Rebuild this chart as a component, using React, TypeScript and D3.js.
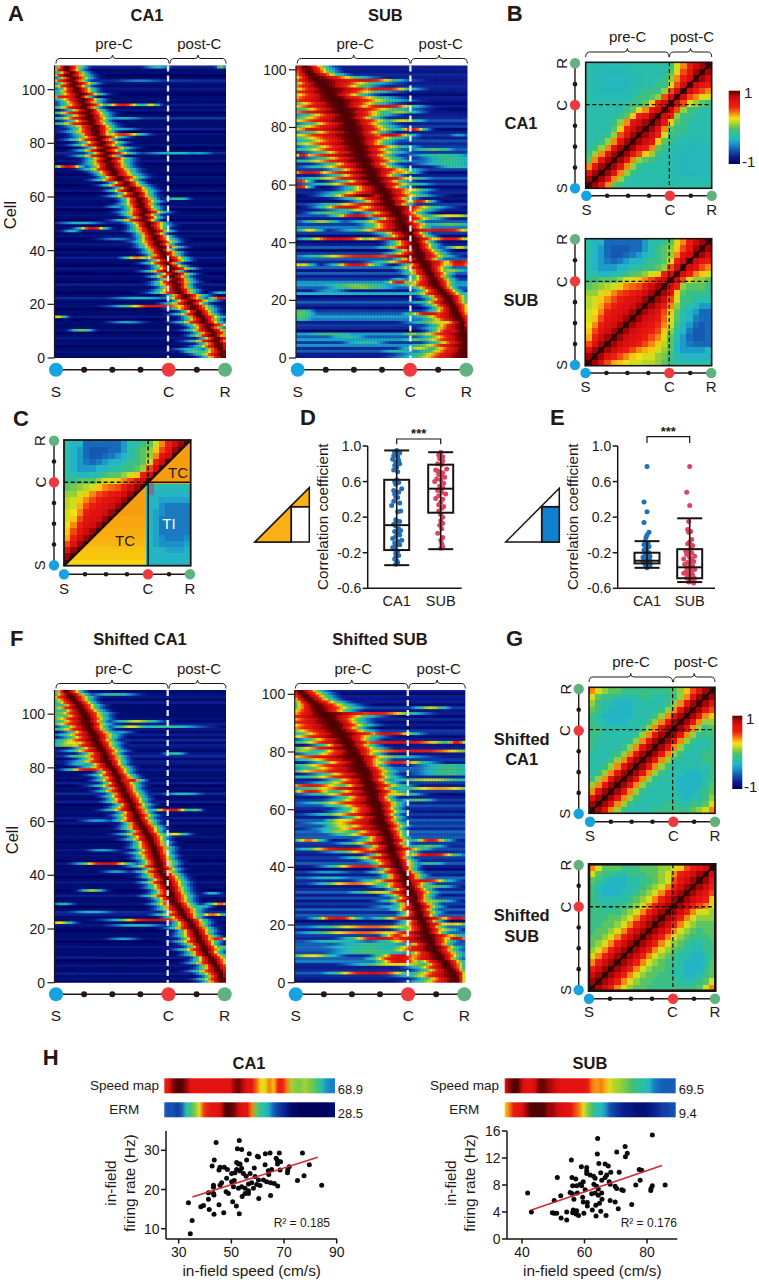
import React from "react";
import * as d3 from "d3";

const FONT = "'Liberation Sans', Arial, sans-serif";

// ---------- colour scale ----------
const jetStops = [0, 0.1, 0.18, 0.27, 0.33, 0.4, 0.47, 0.53, 0.58, 0.62, 0.67, 0.72, 0.78, 0.87, 0.93, 0.97, 1];
const jetColors = ["#00005c", "#0a1f90", "#1450b0", "#1b8fc8", "#22b4c8", "#2cc0a0", "#48c070", "#88cc40", "#c8dc20", "#f8e010", "#f8a810", "#f46010", "#ec2010", "#e01010", "#bc0808", "#7c0404", "#500303"];
const jet = d3.scaleLinear<string>().domain(jetStops).range(jetColors).clamp(true);

// ---------- heat maps: per-row peak (% of track), left / right spread, floor ----------
const ca1Peak = [99,98,99,97,96,96,94,95,92,93,91,89,90,87,87,85,84,84,81,81,79,79,76,76,73,72,71,72,69,71,69,70,67,69,67,65,67,65,64,63,62,62,60,61,58,59,57,58,56,54,55,52,53,51,53,52,50,51,49,50,47,48,44,45,41,42,38,38,34,35,33,32,33,30,32,29,31,28,30,27,28,26,27,24,25,23,24,21,22,20,21,19,20,17,18,16,17,14,16,13,13,11,12,10,11,8,10,7,7];
const ca1SigL = [8,10,9,6,9,7,10,6,8,7,9,6,8,10,7,6,9,6,8,7,9,6,7,6,10,8,6,9,7,6,8,6,9,7,6,8,7,10,6,7,6,8,7,9,6,7,6,9,7,6,8,10,6,7,9,7,6,8,6,7,9,7,8,6,8,6,9,7,6,8,10,7,9,7,8,10,7,9,7,10,8,11,9,8,11,8,10,14,9,13,9,14,8,12,9,8,11,7,10,8,7,9,7,10,6,8,6,7,5];
const ca1SigR = [4,4,5,5,6,6,6,7,6,7,7,6,8,7,6,9,7,6,8,7,6,9,7,8,6,7,6,5,8,6,6,7,5,8,6,5,7,8,6,7,5,8,6,7,8,6,5,7,6,8,7,5,6,6,8,6,7,5,8,6,7,6,9,7,8,6,7,9,10,8,9,8,7,9,8,6,10,8,9,7,8,6,9,7,6,9,7,8,6,9,7,8,6,6,9,7,7,5,8,7,7,6,8,6,7,8,6,6,7];
const ca1Base = [.03,.03,.06,.03,.02,.05,.03,.08,.04,.02,.06,.03,.03,.05,.02,.08,.03,.03,.02,.06,.03,.05,.12,.03,.02,.04,.03,.1,.02,.03,.06,.02,.03,.08,.02,.03,.05,.1,.03,.06,.02,.03,.08,.03,.02,.06,.03,.08,.03,.03,.1,.02,.04,.06,.03,.02,.08,.03,.05,.06,.03,.02,.07,.03,.02,.05,.03,.06,.02,.04,.05,.03,.02,.08,.04,.03,.12,.03,.02,.06,.03,.05,.03,.06,.02,.1,.03,.05,.03,.14,.03,.02,.07,.03,.1,.03,.06,.03,.02,.05,.08,.03,.06,.12,.03,.02,.05,.03,.1];
const ca1Lobes = [[108,60,6,.34],[108,97,2,.5],[103,50,12,.25],[103,70,25,.14],[97,6,8,.85],[94,40,8,.82],[94,56,4,.6],[89,40,10,.32],[85,38,9,.32],[83,40,9,.78],[76,70,14,.36],[76,84,7,.3],[71,8,6,.88],[59,72,5,.45],[50,15,10,.35],[48,22,6,.88],[47,10,4,.35],[37,60,14,.3],[37,48,6,.7],[22,50,14,.34],[22,97,5,.85],[19,60,16,.85],[19,76,5,.7],[15,2,4,.6],[13,42,8,.3],[12,96,5,.75],[10,16,5,.5],[5,96,6,.9],[3,80,8,.35],[2,82,5,.5],[24,97,4,.35],[62,36,6,.3],[56,36,5,.3],[44,36,8,.25]];

const subPeak = [100,100,100,100,100,100,100,99,99,98,98,97,97,96,95,94,93,92,91,90,89,88,86,85,83,82,81,80,79,78,77,76,75,74,73,72,72,71,70,70,69,68,67,66,64,63,62,62,61,60,59,58,57,55,54,53,52,51,50,49,47,46,45,45,44,43,42,41,40,39,38,38,37,36,36,35,35,34,34,33,33,32,31,30,30,28,27,26,25,24,22,20,19,18,16,14,12,10,9,7,6,5];
const subSigL = [24,22,18,16,22,14,20,16,22,10,14,12,8,14,16,14,10,8,10,12,8,9,12,9,10,14,12,9,8,10,9,12,8,18,10,26,12,8,14,10,9,24,10,12,22,15,14,18,10,20,12,22,16,26,12,16,10,20,14,13,24,14,26,16,28,14,22,16,28,18,32,18,26,20,30,22,26,32,20,34,26,18,30,22,18,32,18,26,20,30,24,18,24,16,18,12,14,9,10,8,8,7];
const subSigR = [3,3,3,3,3,3,3,4,4,4,4,4,5,5,6,6,6,7,8,7,8,9,8,7,7,7,8,8,7,9,8,9,12,14,8,12,10,9,8,8,7,12,8,7,18,10,12,8,14,12,10,14,18,8,12,10,16,14,16,10,16,12,20,10,14,18,12,10,16,14,12,16,14,20,12,14,18,16,12,18,16,14,18,12,16,18,24,14,18,24,18,14,22,28,18,24,30,20,12,10,10,9];
const subBase = [.1,.1,.2,.12,.28,.15,.3,.2,.3,.02,.12,.15,.1,.25,.3,.2,.15,.05,.12,.2,.1,.05,.33,.1,.2,.3,.28,.15,.1,.2,.08,.22,.03,.12,.2,.05,.15,.03,.2,.1,.05,.1,.05,.15,.12,.25,.15,.2,.1,.18,.05,.1,.03,.15,.05,.08,.03,.12,.1,.05,.15,.1,.2,.1,.05,.15,.1,.12,.22,.15,.1,.15,.2,.15,.12,.18,.1,.15,.1,.05,.15,.1,.18,.12,.1,.08,.03,.1,.05,.08,.1,.05,.08,.1,.12,.1,.08,.1,.12,.08,.1,.1];
const subLobes = [[96,40,15,.88],[93,50,14,.85],[90,25,20,.92],[87,52,14,.88],[85,10,12,.6],[79,10,8,.88],[79,68,6,.82],[77,55,10,.88],[77,95,5,.3],[75,15,10,.6],[72,15,8,.6],[70,4,4,.85],[70,85,14,.45],[69,90,14,.42],[68,90,14,.42],[67,88,14,.42],[66,95,10,.42],[64,8,10,.88],[64,60,8,.7],[61,2,5,.82],[60,60,14,.55],[59,2,5,.85],[58,65,10,.65],[56,40,15,1],[54,72,6,.82],[52,30,12,.88],[50,20,10,.5],[49,90,15,.62],[49,35,10,.88],[46,90,12,.5],[47,15,9,.55],[44,8,6,.62],[44,85,15,.88],[41,25,15,.88],[41,90,10,.85],[38,95,6,.6],[35,40,25,.8],[32,3,6,.65],[32,35,10,.88],[33,95,7,.92],[32,95,7,.85],[30,90,8,.55],[27,60,5,.35],[25,35,18,.52],[24,38,16,.52],[26,60,6,.85],[23,20,8,.3],[22,70,14,.38],[16,3,6,.45],[15,78,10,.88],[15,3,7,.5],[14,3,6,.48],[13,3,6,.42],[9,90,8,.88],[8,20,14,.45],[7,30,10,.4],[6,70,8,.5],[5,40,10,.42],[4,78,6,.55],[3,72,8,.6],[2,60,10,.4],[8,68,6,.55],[19,88,16,.62],[12,85,14,.6],[6,85,14,.6],[72,80,10,.5],[62,20,10,.6],[82,62,10,.6],[85,60,10,.55]];

const sca1Peak = [98,98,97,97,96,95,94,93,92,91,89,88,88,87,86,85,84,84,83,82,81,80,79,78,76,75,74,73,72,71,69,69,68,68,67,67,66,65,65,64,63,62,62,61,61,60,60,59,59,58,58,57,56,56,55,54,53,52,51,50,49,48,48,47,46,45,45,44,43,42,41,40,40,39,38,37,37,36,35,34,33,32,31,30,30,29,28,27,26,25,24,24,23,22,21,20,20,19,19,18,17,16,15,14,13,11,10,9,7];
const sca1SigL = [7,9,6,8,10,7,6,9,7,6,8,7,10,6,7,9,6,8,7,6,9,7,6,8,7,10,6,8,7,9,6,7,10,7,6,8,7,9,6,8,7,9,6,10,7,6,8,7,9,6,8,7,6,9,7,10,6,8,7,6,9,7,8,6,10,7,6,9,7,8,6,9,7,10,6,8,7,9,6,8,10,8,12,9,11,8,13,9,14,10,15,11,13,9,14,10,16,12,15,9,11,8,12,7,9,8,10,6,5];
const sca1SigR = [5,5,6,6,6,6,7,6,7,7,7,6,7,7,6,7,7,7,6,7,7,6,7,7,6,7,7,8,7,7,7,7,8,7,7,7,7,8,7,7,7,6,7,6,7,7,6,7,6,7,7,6,7,6,7,7,6,7,7,6,7,6,7,6,7,6,7,6,7,7,7,7,6,7,7,6,7,7,6,7,7,6,7,7,7,6,8,7,7,8,7,8,9,8,7,7,8,7,8,8,9,8,7,8,7,7,8,7,6];
const sca1Base = [.02,.06,.03,.1,.03,.03,.08,.03,.02,.1,.03,.05,.03,.08,.03,.02,.06,.03,.05,.02,.03,.08,.03,.03,.05,.1,.12,.03,.02,.06,.03,.03,.1,.03,.02,.05,.03,.08,.03,.02,.06,.03,.05,.03,.08,.02,.04,.06,.03,.08,.03,.05,.02,.03,.07,.03,.05,.03,.02,.08,.03,.1,.03,.06,.05,.03,.02,.1,.03,.04,.12,.03,.06,.02,.1,.03,.06,.03,.05,.08,.03,.07,.1,.04,.12,.08,.03,.06,.1,.03,.12,.04,.1,.03,.08,.05,.1,.03,.06,.03,.04,.03,.05,.03,.1,.03,.08,.06,.03];
const sca1Lobes = [[107,35,10,.4],[103,3,6,.42],[102,3,6,.45],[101,3,6,.45],[100,3,7,.5],[99,3,7,.5],[98,3,7,.48],[97,48,10,.58],[97,3,6,.42],[96,3,5,.38],[95,65,16,.42],[95,45,8,.6],[93,38,6,.3],[89,10,8,.62],[88,8,9,.55],[86,16,8,.42],[85,70,5,.4],[84,16,7,.5],[81,15,6,.35],[79,20,9,.88],[75,45,5,.85],[70,75,9,.36],[64,68,8,.85],[64,82,3,.5],[60,25,7,.3],[55,70,6,.62],[55,52,6,.85],[49,28,7,.3],[44,30,11,.88],[41,36,6,.3],[34,22,5,.55],[29,5,5,.35],[29,97,6,.72],[26,22,10,.34],[25,92,6,.72],[23,58,16,.92],[22,3,6,.62],[21,48,12,.36],[28,85,5,.4],[16,40,7,.3],[16,95,5,.85],[13,98,4,.5],[33,92,4,.35],[5,98,3,.8],[2,98,5,.9]];

const ssubPeak = [95,95,94,94,92,90,89,88,86,85,83,82,82,80,80,79,78,77,77,76,75,75,74,73,73,72,72,71,70,70,69,68,68,67,66,65,65,64,63,62,61,60,60,59,58,57,57,57,56,56,55,55,54,53,53,52,51,51,50,50,49,49,48,47,47,46,46,45,44,44,43,42,42,41,40,39,38,37,36,35,34,33,32,31,30,28,27,26,25,24,23,21,19,17,15,13,12,10,8,6,4,3];
const ssubSigL = [16,14,20,18,12,14,10,12,18,16,12,20,18,10,20,24,14,20,10,9,9,8,18,8,7,10,9,8,12,8,10,14,8,12,10,16,9,8,12,8,16,10,12,18,9,22,12,10,18,12,10,20,14,24,18,26,20,14,24,16,14,18,26,16,14,24,16,28,12,20,14,26,18,30,24,28,16,24,34,18,14,26,12,22,16,26,18,22,28,24,30,22,26,18,14,10,9,8,8,7,6,6];
const ssubSigR = [4,4,5,5,6,7,8,8,7,9,10,9,10,8,9,10,14,8,9,8,12,7,14,7,8,7,9,8,6,7,8,10,8,7,9,8,7,8,7,6,7,8,7,6,8,9,14,8,7,9,8,7,8,7,9,8,7,8,7,9,8,9,10,8,7,10,12,9,14,10,8,12,10,12,11,9,10,11,14,10,12,12,10,14,11,14,22,13,10,14,12,13,18,32,12,16,14,12,10,10,10,9];
const ssubBase = [.05,.1,.12,.2,.12,.1,.12,.25,.2,.12,.16,.2,.22,.2,.18,.12,.15,.22,.1,.22,.12,.05,.15,.2,.12,.2,.1,.15,.08,.18,.1,.2,.12,.08,.15,.12,.22,.1,.15,.05,.1,.2,.12,.15,.1,.12,.18,.12,.15,.1,.2,.18,.22,.12,.18,.15,.2,.1,.15,.08,.12,.18,.1,.15,.1,.05,.15,.12,.1,.15,.1,.12,.08,.2,.22,.12,.1,.15,.1,.08,.12,.1,.08,.15,.1,.05,.12,.15,.05,.1,.05,.12,.05,.1,.08,.15,.05,.1,.08,.1,.05,.1];
const ssubLobes = [[95,80,8,.58],[93,48,18,.8],[86,55,12,.88],[83,60,25,.88],[83,95,5,.82],[80,70,30,.82],[80,5,8,.55],[78,25,30,.88],[76,60,14,.8],[75,90,15,.42],[74,90,15,.44],[73,90,15,.46],[73,15,15,.72],[72,90,15,.44],[71,10,16,.4],[70,80,20,.58],[68,10,15,.82],[67,85,20,.68],[66,10,10,.82],[65,60,10,.6],[63,72,8,.5],[61,25,8,.4],[58,28,8,.55],[56,28,8,.62],[54,28,8,.6],[52,26,9,.55],[49,8,7,.72],[49,80,8,.82],[47,78,8,.5],[46,30,18,.92],[45,35,6,.5],[44,80,12,.88],[41,80,8,.4],[40,40,15,.82],[38,20,12,.3],[36,20,14,.35],[35,75,12,.88],[34,35,16,.72],[33,80,10,.5],[31,50,14,.6],[28,80,10,.55],[26,60,12,.35],[22,25,10,.88],[22,95,8,.88],[20,92,10,.65],[19,45,25,.72],[18,85,8,.62],[17,40,25,.72],[16,60,6,.8],[15,50,14,.88],[15,95,6,.88],[14,25,16,.4],[13,45,18,.44],[12,40,22,.42],[11,45,20,.44],[10,45,20,.46],[9,10,12,.62],[9,62,10,.88],[8,60,12,.88],[7,62,10,.88],[6,60,20,.62],[5,85,5,.6],[3,45,18,.88],[2,75,10,.4]];

const cellTicks = [0, 20, 40, 60, 80, 100];

// ---------- correlation matrices: lower triangle, row from S upward, in tenths ----------
const ca1Matrix = [
[10],[9,10],[7,9,10],[4,7,9,10],[0,4,7,9,10],[-1,1,4,7,9,10],[-2,-1,1,4,7,9,10],[-2,-2,-1,1,4,7,9,10],[-2,-2,-2,-1,1,5,7,9,10],[-2,-2,-2,-2,0,3,6,8,9,10],[-2,-2,-2,-2,-1,1,4,7,8,9,10],
[-2,-2,-2,-2,-2,-1,0,3,6,7,9,10],[-2,-2,-2,-2,-2,-2,-1,0,2,4,7,8,10],[-2,-2,-2,-2,-2,-2,-2,-1,-1,0,3,6,8,10],
[-2,-2.3,-2.5,-2.5,-2.5,-2.5,-2.4,-2.2,-1,-1,0,1,5,8,10],
[-2,-2.3,-2.6,-2.6,-2.6,-2.6,-2.5,-2.3,-2,-1,-1,-1,1,5,8,10],
[-2,-2.3,-2.6,-2.7,-2.7,-2.7,-2.6,-2.4,-2.2,-2,-2,-1,-1,2,5,8,10],
[-2,-2.3,-2.6,-2.7,-2.7,-2.7,-2.6,-2.4,-2.2,-2,-2,-2,-1,1,4,6,8,10],
[-2,-2.3,-2.5,-2.6,-2.6,-2.6,-2.5,-2.3,-2.2,-2,-2,-2,-2,0,2,5,7,9,10],
[-2,-2.2,-2.4,-2.4,-2.4,-2.4,-2.3,-2.2,-2,-2,-2,-2,-2,-1,2,4,6,8,9,10],
];
const subMatrix = [
[10],[9,10],[7.5,9,10],[5,7.5,9,10],[3.5,6,8,9,10],[3,5,7,8,9,10],[2.5,4,6,7.5,8,9,10],[2,3,5,7,7.5,8,9,10],[2,2.5,4,6,7,7.5,8,9,10],[1.5,2,3.5,5,6,7,7.5,8,9,10],[1.5,2,3,4,5,6,7,7.5,8,9,10],[1,1,2,3,4,5,5.5,6.5,7,8,9,10],[0,0.5,1,1.5,2,3,4,4.5,5,6.5,8,9,10],[-1,-1,0,0,0,1,2,2,3,4,5,7,8,10],
[-2,-2,-3,-3,-2,-2,-1,0,0,1,2,3,6,8,10],[-2,-3,-4,-4,-4,-3,-3,-2,-2,-1,-1,0,1,5,8,10],[-2,-3,-4,-5,-5.5,-5,-4,-3,-3,-2,-1,-1,0,2,6,8,10],[-2,-3,-4,-5.5,-6,-6,-5.5,-5,-4,-3,-2,-1,0,1,4,7,8,10],[-2,-3,-4,-5.5,-6,-6,-6,-5.5,-5.5,-4,-2,-1,0,1,3,5,7,9,10],[-2,-3,-3,-5.5,-5.5,-5.5,-5.5,-5.5,-5.5,-4,-2,-2,-1,0,2,4,6,8,9,10],
];
const sca1Matrix = [
[10],[9,10],[7,9,10],[4,7,9,10],[1,4,7,9,10],[-1,1,4,7,9,10],[-2,-1,1,4,7,9,10],[-2,-2,-1,1,4,7,9,10],[-2,-2,-2,-1,1,4,7,9,10],[-2,-2,-2,-2,-1,1,4,7,9,10],[-1,-2,-2,-2,-2,-1,1,4,7,9,10],[-1,-2,-2,-2,-2,-2,-1,1,4,7,9,10],[-1,-1,-2,-2,-2,-2,-2,-1,1,4,7,9,10],[-1,-1,-2,-2,-2,-2,-2,-2,-1,1,4,7,9,10],
[-1,-2,-2,-3,-3,-3,-2,-2,-2,-1,1,4,7,9,10],[-1,-2,-3,-3,-3,-3,-3,-2,-2,-2,-1,1,4,7,9,10],[0,-1,-2,-3,-3,-3,-3,-2,-2,-2,-2,-1,1,4,7,9,10],[1,-1,-2,-2,-3,-3,-3,-2,-2,-2,-2,-2,-1,1,4,7,9,10],[2,0,-1,-1,-2,-2,-2,-2,-1,-1,-2,-2,-1,-1,1,4,7,9,10],[4,2,1,0,0,-1,-1,-1,-1,-1,-1,-1,-1,0,1,3,5,7,9,10],
];
const ssubMatrix = [
[10],[9,10],[8,9,10],[6,8,9,10],[4,6,8,9,10],[2,4,6,8,9,10],[1,2,4,6,8,9,10],[0,1,2,4,6,8,9,10],[0,0,1,2,4,6,8,9,10],[-1,0,0,1,2,4,6,8,9,10],[-1,-1,0,0,1,2,4,6,8,9,10],[-1,-1,-1,0,0,1,2,4,6,8,9,10],[-1,-1,-1,-1,-1,0,1,2,4,6,8,9,10],[-1,-1,-2,-2,-1,-1,0,1,2,4,6,8,9,10],
[-1,-2,-2,-2,-2,-2,-1,0,1,2,4,6,8,9,10],[-1,-2,-3,-3,-3,-2,-2,-1,0,1,2,4,6,8,9,10],[-1,-2,-3,-3,-3,-3,-2,-2,-1,0,1,2,4,6,8,9,10],[0,-1,-2,-3,-3,-3,-2,-2,-1,-1,0,1,2,5,7,8,9,10],[2,0,-1,-1,-2,-2,-1,-1,-1,0,0,1,2,4,6,7,8,9,10],[4,2,0,0,0,-1,-1,-1,0,0,0,1,1,2,3,5,6,7,8,10],
];
// panel C: mean overlays, lower-right of the matrix
const cTiRows = [
[-3,-3,-3,-3,-3,-3,-3],[-3,-3,-3,-3,-3,-3,-3],[-3,-3,-3,-3.7,-3.7,-3.7,-3],[-3,-3.7,-4.4,-4.4,-4.4,-4.4,-3.7],[-3,-3.7,-4.4,-5,-5,-5,-4.4],[-3,-3.7,-5,-5,-5,-5,-5],[-3,-3.7,-5,-5,-5,-5,-5],[-3,-3.7,-5,-5,-5,-5,-5],[-3,-3.7,-4.4,-5,-5,-5,-5],[-3,-3,-4.4,-5,-5,-5,-5],[-3,-3,-3.7,-3.7,-3.7,-3.7,-3.7],[-2.4,-3,-3,-3,-3,-3,-3],[-1.5,-2,-2.4,-2.4,-2.4,-2.4,-2.4],
];
const cTcRows = [2.8,3,3.1,3.3,3.4,3.5,3.6,3.6,3.7,3.7,3.7,3.7,3.7,3.7,3.7,3.7,3.7,3.7,3.7,3.7];
const cTcPost = 3.7;

// ---------- boxes ----------
const boxCats = ["CA1", "SUB"];
const dBoxes = [
  { lo: -0.34, q1: -0.17, med: 0.11, q3: 0.62, hi: 0.95 },
  { lo: -0.16, q1: 0.25, med: 0.52, q3: 0.79, hi: 0.93 },
];
const eBoxes = [
  { lo: -0.37, q1: -0.32, med: -0.29, q3: -0.2, hi: -0.07 },
  { lo: -0.53, q1: -0.487, med: -0.364, q3: -0.16, hi: 0.187 },
];
const boxTicks = [1.0, 0.6, 0.2, -0.2, -0.6];
const dCa1Pts = [[0,.95],[-2,.93],[3,.92],[-3,.89],[1,.88],[-4,.85],[2,.84],[-1,.82],[3,.8],[-2,.78],[0,.76],[-3,.73],[1,.71],[0,.62],[-2,.6],[2,.59],[-1,.57],[5,.52],[-3,.5],[2,.48],[-2,.46],[-1,.43],[1,.42],[-3,.38],[3,.36],[-5,.33],[4,.27],[1,.26],[-1,.17],[0,.16],[3,.15],[-3,.12],[-1,.1],[2,.07],[4,.05],[-2,.04],[1,.02],[3,0],[-1,-.02],[-4,-.04],[5,-.06],[1,-.07],[-2,-.09],[3,-.11],[-1,-.12],[-4,-.14],[-2,-.16],[1,-.18],[-1,-.21],[2,-.23],[-1,-.25],[-2,-.27],[0,-.29],[1,-.31],[-1,-.33]];
const dSubPts = [[0,.93],[-2,.9],[2,.88],[-1,.86],[2,.83],[-3,.8],[1,.79],[-5,.73],[6,.74],[-3,.72],[2,.7],[-2,.68],[1,.67],[4,.65],[-4,.63],[0,.62],[-6,.6],[3,.58],[-1,.55],[2,.53],[-3,.5],[1,.48],[5,.46],[-2,.44],[-5,.41],[2,.4],[0,.37],[-2,.34],[3,.32],[1,.3],[-2,.27],[0,.23],[2,.2],[0,.16],[2,.13],[-1,.11],[1,.07],[-3,.02],[2,-.03],[0,-.06],[1,-.1],[2,-.13],[0,-.15]];
const eCa1Pts = [[0,.77],[-3,.37],[0,.26],[-3,.14],[2,.03],[0,0],[-1,-.03],[-2,-.07],[1,-.09],[-3,-.11],[2,-.13],[-1,-.15],[-3,-.17],[0,-.18],[2,-.2],[-2,-.21],[1,-.22],[-1,-.23],[3,-.24],[-4,-.25],[0,-.26],[2,-.27],[-2,-.27],[1,-.28],[3,-.29],[-1,-.3],[-4,-.3],[2,-.31],[0,-.32],[-2,-.33],[1,-.34],[3,-.34],[-1,-.35],[0,-.37]];
const eSubPts = [[0,.77],[-3,.48],[0,.33],[-1,.15],[-2,.06],[1,.04],[-1,.03],[2,-.05],[0,-.08],[-2,-.1],[3,-.12],[1,-.15],[-4,-.18],[-1,-.19],[2,-.2],[-3,-.22],[5,-.24],[0,-.25],[-6,-.27],[2,-.28],[4,-.3],[-2,-.31],[0,-.32],[-5,-.33],[1,-.34],[3,-.35],[-3,-.37],[0,-.38],[5,-.39],[-1,-.4],[2,-.41],[-4,-.42],[-6,-.43],[0,-.44],[3,-.45],[-2,-.46],[1,-.47],[-3,-.48],[5,-.49],[0,-.5],[2,-.52],[-1,-.53],[4,-.54]];

// ---------- place maps (colour level across the track) ----------
const speedCa1 = [.78,.85,.96,1,1,.95,.86,.85,.85,.85,.85,.85,.85,.85,.85,.85,.95,.98,.92,.85,.85,.72,.63,.6,.7,.65,.78,.78,.7,.55,.53,.52,.55,.53,.5,.45,.38,.28,.25,.25];
const ermCa1 = [.2,.18,.18,.15,.2,.38,.45,.52,.6,.75,.8,.85,.85,.9,1,1,.97,.9,.85,.85,.7,.5,.42,.38,.3,.2,.15,.12,.08,.03,.02,0,0,0,0,0,0,0,.03,.05];
const speedSub = [.85,.95,1,1,.9,.85,.85,.9,.98,.98,.95,.92,.88,.85,.85,.85,.85,.85,.85,.8,.7,.68,.7,.66,.6,.56,.55,.53,.5,.46,.43,.4,.38,.33,.25,.22,.2,.2,.2,.2];
const ermSub = [.6,.7,.8,.85,.87,.95,1,1,1,1,.95,.95,.9,.88,.86,.85,.75,.7,.6,.52,.45,.38,.35,.28,.18,.15,.12,.1,.08,.07,.05,.05,.05,.07,.1,.12,.15,.15,.18,.18];

// ---------- scatter ----------
const ca1Scatter = [[33.7,16.6],[35.1,12.1],[34.4,8.7],[44.2,32],[53,32.5],[52.3,30.4],[53.9,30.2],[56.8,29.1],[62.9,29.1],[64.7,29.3],[68.2,29.3],[77,29.3],[59.9,28.5],[60.3,28.3],[55.8,27.5],[43.5,27.5],[42.7,26],[52,26.9],[52.7,26.5],[53.3,26.5],[62.8,26.3],[67,28],[67.5,27.4],[68.7,27.1],[67.5,26.5],[79.6,26.3],[72,25.8],[47.3,25.7],[45.7,25.7],[45.3,25],[48.5,25.1],[58.7,25.5],[52,25.1],[53.9,25.4],[65.3,25.1],[64,24.8],[68.5,25],[71.4,25],[71.3,24.3],[50.1,24.1],[51.4,24.3],[53.3,24.7],[54.6,24.1],[57.1,24.1],[64.2,23.8],[77.6,23.5],[48.2,22.9],[55.6,23.4],[59,23.3],[75.1,22.3],[60.3,22.4],[62.2,22.4],[50.1,22],[51.1,22.3],[46.3,21.7],[45.7,21.1],[43.2,21.1],[43.2,20.6],[53.9,20.7],[56.5,21.4],[57.7,21.7],[59.6,21.3],[60.9,21],[63.4,22],[64.9,21.7],[66.3,21.5],[67.6,20.9],[84.3,21.1],[50.8,20.7],[52.7,20.3],[55.2,20.3],[56.5,19.7],[58.4,20.3],[48,19.4],[48.9,19],[41.3,19.2],[43.2,19],[43.4,18.6],[55.2,19],[56.5,19],[54.1,18.2],[64.9,18.5],[60.4,17.7],[41.3,17.5],[50.5,16.9],[38.4,15.6],[39.4,15.9],[45.3,16.1],[51.9,15.8],[41.6,14.9],[47.1,14.1],[43.4,13.7],[53,13.8]];
const subScatter = [[41.8,6.8],[43,4],[64.2,14.9],[81.7,15.4],[73,13.7],[64.1,12.6],[70.3,12.9],[73.7,12.7],[73.1,12.2],[55.8,11.7],[64.6,11.2],[66.6,11.1],[67.6,10.8],[59,10.7],[60.7,10.6],[60.7,10.1],[77.5,10.3],[78.3,10.2],[71.1,9.9],[68.4,9.9],[65.2,9.8],[60.7,9.7],[61.8,9.5],[62.9,9.3],[67.1,9.5],[66.6,9.1],[51.3,9.1],[56,9.1],[57.2,8.9],[63.4,9],[65.5,8.7],[77.8,8.7],[59.6,8.5],[58.6,8.1],[67.9,8.5],[68.2,8.1],[63,8.1],[56.2,7.9],[57.5,7.9],[59.1,7.9],[63.9,7.8],[64.4,7.4],[69.8,7.8],[76.4,8],[85.8,8],[81.7,7.9],[81.3,7.5],[70.3,7.5],[71.9,7.3],[72.4,7.2],[81.2,7.2],[60.2,7.3],[55.4,6.9],[56.1,6.7],[57.7,6.8],[62.3,6.7],[63.4,6.8],[65.5,6.8],[64.4,6.5],[52.4,6.4],[59.4,6.2],[56.6,5.9],[50.3,5.7],[59.6,5.5],[60.9,5.4],[65.6,5.9],[68.2,5.7],[69.8,5.5],[75.1,5.1],[60.9,4.9],[64.8,5.3],[63.6,5],[70.8,4.5],[62.5,4.3],[56.4,4.3],[57.5,4.2],[56.2,3.9],[54.3,4],[65.2,4.1],[49.7,3.9],[50.3,3.8],[51.1,3.8],[57.3,3.7],[58.1,3.5],[59.8,3.8],[63.7,3.4],[66.9,3.5],[52.5,3.1],[54.3,2.8]];
const ca1Fit = [[35.2,18.1],[82.8,28.2]];
const subFit = [[43,4.3],[84.8,10.9]];

// ---------- helpers ----------
const NODE = { s: "#17a3df", c: "#ee3a3f", r: "#62b27f", d: "#231815" };
const corrLevel = d3.scaleLinear().domain([-10, -2, 10]).range([0, 0.385, 1]);

function Txt({ x, y, size = 13, anchor = "middle", bold = false, rotate, fill = "#231815", children }: any) {
  return (
    <text x={x} y={y} fontFamily={FONT} fontSize={size} fontWeight={bold ? 700 : 400} textAnchor={anchor} dominantBaseline="central" fill={fill}
      transform={rotate !== undefined ? `rotate(${rotate} ${x} ${y})` : undefined}>{children}</text>
  );
}

function HTrack({ x0, x1, y, R = 7, r = 3 }: any) {
  const sx = d3.scaleLinear().domain([0, 6]).range([x0, x1]);
  return (
    <g>
      <line x1={x0} x2={x1} y1={y} y2={y} stroke={NODE.d} strokeWidth={1.4} />
      {[1, 2, 3, 5].map((i) => <circle key={i} cx={sx(i)} cy={y} r={r} fill={NODE.d} />)}
      <circle cx={sx(0)} cy={y} r={R} fill={NODE.s} />
      <circle cx={sx(4)} cy={y} r={R} fill={NODE.c} />
      <circle cx={sx(6)} cy={y} r={R} fill={NODE.r} />
    </g>
  );
}
function VTrack({ x, yS, yR, R = 5.2, r = 2.3 }: any) {
  const sy = d3.scaleLinear().domain([0, 6]).range([yS, yR]);
  return (
    <g>
      <line x1={x} x2={x} y1={yS} y2={yR} stroke={NODE.d} strokeWidth={1.4} />
      {[1, 2, 3, 5].map((i) => <circle key={i} cx={x} cy={sy(i)} r={r} fill={NODE.d} />)}
      <circle cx={x} cy={sy(0)} r={R} fill={NODE.s} />
      <circle cx={x} cy={sy(4)} r={R} fill={NODE.c} />
      <circle cx={x} cy={sy(6)} r={R} fill={NODE.r} />
    </g>
  );
}
function Brace({ x0, x1, y }: any) {
  const m = (x0 + x1) / 2;
  const d = `M${x0} ${y + 5}Q${x0} ${y} ${x0 + 4} ${y}L${m - 3} ${y}Q${m} ${y} ${m} ${y - 3.5}Q${m} ${y} ${m + 3} ${y}L${x1 - 4} ${y}Q${x1} ${y} ${x1} ${y + 5}`;
  return <path d={d} fill="none" stroke={NODE.d} strokeWidth={1} />;
}

const COLS = d3.range(57);
function Heat({ id, left, right, top, bottom, rowsMax, peak, sigL, sigR, base, lobes, cLine }: any) {
  const y = d3.scaleLinear().domain([0, rowsMax]).range([bottom, top]);
  const x = d3.scaleLinear().domain([0, COLS.length]).range([left, right]);
  const pct = d3.scaleLinear().domain([0, 100]).range([left, right]);
  const byRow = d3.group(lobes as number[][], (l) => l[0]);
  const rows = peak.map((p: number, i: number) => {
    const list = byRow.get(i) || [];
    return COLS.map((c) => {
      const at = ((c + 0.5) / COLS.length) * 100;
      const d = at - p;
      const s = d < 0 ? sigL[i] : sigR[i];
      let v = Math.max(base[i], Math.exp(-0.5 * (d / s) * (d / s)));
      for (const l of list) v = Math.max(v, l[3] * Math.exp(-0.5 * ((at - l[1]) / l[2]) ** 2));
      return v;
    });
  });
  return (
    <g>
      <clipPath id={id}><rect x={left} y={top} width={right - left} height={bottom - top} /></clipPath>
      <g clipPath={`url(#${id})`}>
        <g filter="url(#soft)">
          <rect x={left - 3} y={top - 3} width={right - left + 6} height={bottom - top + 6} fill={jet(0.03)} />
          {rows.map((row: number[], i: number) => row.map((v, c) => (
            <rect key={`${i}-${c}`} x={x(c)} y={y(i + 1)} width={x(c + 1) - x(c) + 0.4} height={y(i) - y(i + 1) + 0.4} fill={jet(v)} />
          )))}
        </g>
      </g>
      <line x1={left} x2={left} y1={top} y2={bottom} stroke={NODE.d} strokeWidth={1.2} />
      {cellTicks.map((t) => (
        <g key={t}>
          <line x1={left - 7} x2={left} y1={y(t)} y2={y(t)} stroke={NODE.d} strokeWidth={1.2} />
          <Txt x={left - 9.5} y={y(t)} anchor="end" size={14}>{t}</Txt>
        </g>
      ))}
      <line x1={pct(cLine)} x2={pct(cLine)} y1={top} y2={bottom} stroke="#e4ecf4" strokeWidth={2.3} strokeDasharray="6 4" />
    </g>
  );
}

function fullCell(m: number[][], i: number, j: number) {
  return i >= j ? m[i][j] : m[j][i];
}
const band = d3.scaleBand<number>().domain(d3.range(20)).range([0, 1]);
function Matrix({ x0, x1, y0, y1, data, border = 1.6, diag = 1.8 }: any) {
  const w = x1 - x0, h = y1 - y0;
  const cx = (j: number) => x0 + (band(j) as number) * w;
  const cy = (i: number) => y1 - ((band(i) as number) + band.bandwidth()) * h;
  const cFrac = 0.664;
  const cX = x0 + cFrac * w, cY = y1 - cFrac * h;
  return (
    <g>
      {d3.range(20).map((i) => d3.range(20).map((j) => (
        <rect key={`${i}-${j}`} x={cx(j)} y={cy(i)} width={w / 20 + 0.3} height={h / 20 + 0.3} fill={jet(corrLevel(fullCell(data, i, j)))} shapeRendering="crispEdges" />
      )))}
      <line x1={x0} x2={x1} y1={y1} y2={y0} stroke="#1a0505" strokeWidth={diag} />
      <line x1={cX} x2={cX} y1={y0} y2={y1} stroke="#111" strokeWidth={1.3} strokeDasharray="4 2.6" />
      <line x1={x0} x2={x1} y1={cY} y2={cY} stroke="#111" strokeWidth={1.3} strokeDasharray="4 2.6" />
      <rect x={x0} y={y0} width={w} height={h} fill="none" stroke="#1a1311" strokeWidth={border} />
    </g>
  );
}
function PanelC() {
  const x0 = 64, x1 = 190.7, y0 = 440, y1 = 565.7;
  const w = x1 - x0, h = y1 - y0;
  const cx = (j: number) => x0 + (band(j) as number) * w;
  const cy = (i: number) => y1 - ((band(i) as number) + band.bandwidth()) * h;
  const cX = x0 + 0.664 * w, cY = y1 - 0.664 * h;
  const upper: any[] = [], lower: any[] = [];
  for (let i = 0; i < 20; i++) for (let j = 0; j < 20; j++) {
    const cell = (val: number) => <rect key={`${i}-${j}`} x={cx(j)} y={cy(i)} width={w / 20 + 0.3} height={h / 20 + 0.3} fill={jet(corrLevel(val))} shapeRendering="crispEdges" />;
    if (j <= i) upper.push(cell(subMatrix[i][j]));
    if (j >= i) {
      let val: number;
      if (j <= 12) val = cTcRows[i];
      else if (i <= 12) val = cTiRows[i][j - 13];
      else val = cTcPost;
      lower.push(cell(val));
    }
  }
  return (
    <g>
      <clipPath id="cLow"><polygon points={`${x0},${y1} ${x1},${y0} ${x1},${y1}`} /></clipPath>
      {upper}
      <g clipPath="url(#cLow)">{lower}</g>
      <rect x={cX + 1} y={cY + 1} width={5} height={12} fill="#8a5c8c" opacity={0.75} />
      <line x1={x0} x2={x1} y1={y1} y2={y0} stroke="#1a0505" strokeWidth={2.4} />
      <line x1={cX} x2={cX} y1={cY} y2={y1} stroke="#111" strokeWidth={1.5} />
      <line x1={cX} x2={x1} y1={cY} y2={cY} stroke="#111" strokeWidth={1.5} />
      <line x1={cX} x2={cX} y1={y0} y2={cY} stroke="#111" strokeWidth={1.5} strokeDasharray="4 2.6" />
      <line x1={x0} x2={cX} y1={cY} y2={cY} stroke="#111" strokeWidth={1.5} strokeDasharray="4 2.6" />
      <rect x={x0} y={y0} width={w} height={h} fill="none" stroke="#1a1311" strokeWidth={1.8} />
      <Txt x={125} y={540} size={15} fill="#2a1c10">TC</Txt>
      <Txt x={178} y={472} size={15} fill="#2a1c10">TC</Txt>
      <Txt x={169} y={523} size={15} fill="#ffffff">TI</Txt>
    </g>
  );
}

function Colorbar({ x0, x1, y0, y1, id }: any) {
  return (
    <g>
      <linearGradient id={id} x1="0" x2="0" y1="1" y2="0">
        {jetStops.map((s, i) => <stop key={i} offset={s} stopColor={jetColors[i]} />)}
      </linearGradient>
      <rect x={x0} y={y0} width={x1 - x0} height={y1 - y0} fill={`url(#${id})`} />
    </g>
  );
}

function BoxPanel({ axisX, axisEnd, centers, boxes, pts, bracket, dropY, tipY, starY, labelX }: any) {
  const y = d3.scaleLinear().domain([-0.6, 1]).range([588.3, 446]);
  const jit = d3.scaleLinear().domain([-6, 6]).range([-6, 6]);
  const hw = 12.5;
  const cols = ["#1f70b6", "#dc4560"];
  return (
    <g>
      {pts.map((set: number[][], k: number) => set.map((p, i) => (
        <circle key={`${k}-${i}`} cx={centers[k] + jit(p[0])} cy={y(p[1])} r={2.5} fill={cols[k]} />
      )))}
      {boxes.map((b: any, k: number) => (
        <g key={k} fill="none" stroke="#1a1311" strokeWidth={2}>
          <line x1={centers[k]} x2={centers[k]} y1={y(b.lo)} y2={y(b.hi)} strokeWidth={1.6} />
          <line x1={centers[k] - hw} x2={centers[k] + hw} y1={y(b.lo)} y2={y(b.lo)} />
          <line x1={centers[k] - hw} x2={centers[k] + hw} y1={y(b.hi)} y2={y(b.hi)} />
          <rect x={centers[k] - hw} y={y(b.q3)} width={hw * 2} height={y(b.q1) - y(b.q3)} fill="none" />
          <line x1={centers[k] - hw} x2={centers[k] + hw} y1={y(b.med)} y2={y(b.med)} />
        </g>
      ))}
      <line x1={axisX} x2={axisX} y1={y(1)} y2={y(-0.6)} stroke="#1a1311" strokeWidth={1.5} />
      <line x1={axisX} x2={axisEnd} y1={y(-0.6)} y2={y(-0.6)} stroke="#1a1311" strokeWidth={1.5} />
      {boxTicks.map((t) => (
        <g key={t}>
          <line x1={axisX - 5} x2={axisX} y1={y(t)} y2={y(t)} stroke="#1a1311" strokeWidth={1.5} />
          <Txt x={axisX - 6.5} y={y(t)} anchor="end" size={14}>{t.toFixed(1)}</Txt>
        </g>
      ))}
      {boxCats.map((c, k) => <Txt key={c} x={centers[k]} y={601} size={14.5}>{c}</Txt>)}
      <path d={`M${centers[0]} ${dropY}V${bracket}H${centers[1]}V${dropY}`} fill="none" stroke="#1a1311" strokeWidth={1.2} />
      <Txt x={(centers[0] + centers[1]) / 2} y={starY} size={13} bold>***</Txt>
      <Txt x={labelX} y={516.7} size={15.2} rotate={-90}>Correlation coefficient</Txt>
    </g>
  );
}

function Bar({ id, x0, x1, y0, y1, vals }: any) {
  return (
    <g>
      <linearGradient id={id}>
        {vals.map((v: number, i: number) => <stop key={i} offset={i / (vals.length - 1)} stopColor={jet(v)} />)}
      </linearGradient>
      <rect x={x0} y={y0} width={x1 - x0} height={y1 - y0} fill={`url(#${id})`} />
    </g>
  );
}
function Scatter({ axisX, axisEnd, xDomain, xRange, xTicks, yDomain, yRange, yTicks, topY, data, fit, r2x }: any) {
  const x = d3.scaleLinear().domain(xDomain).range(xRange);
  const y = d3.scaleLinear().domain(yDomain).range(yRange);
  const line = d3.line<number[]>().x((d) => x(d[0])).y((d) => y(d[1]));
  const baseY = 1239;
  return (
    <g>
      {data.map((p: number[], i: number) => <circle key={i} cx={x(p[0])} cy={y(p[1])} r={2.5} fill="#0a0a0a" />)}
      <path d={line(fit) as string} stroke="#d4292c" strokeWidth={1.6} fill="none" />
      <line x1={axisX} x2={axisX} y1={topY} y2={baseY} stroke="#1a1311" strokeWidth={1.5} />
      <line x1={axisX} x2={axisEnd} y1={baseY} y2={baseY} stroke="#1a1311" strokeWidth={1.5} />
      {xTicks.map((t: number) => (
        <g key={t}>
          <line x1={x(t)} x2={x(t)} y1={baseY} y2={baseY + 4.5} stroke="#1a1311" strokeWidth={1.5} />
          <Txt x={x(t)} y={1252} size={14}>{t}</Txt>
        </g>
      ))}
      {yTicks.map((t: number) => (
        <g key={t}>
          <line x1={axisX - 5} x2={axisX} y1={y(t)} y2={y(t)} stroke="#1a1311" strokeWidth={1.5} />
          <Txt x={axisX - 6.5} y={y(t)} anchor="end" size={14}>{t}</Txt>
        </g>
      ))}
      <text x={r2x} y={1223} fontFamily={FONT} fontSize={12} textAnchor="end" dominantBaseline="central" fill="#231815">
        {fit === ca1Fit ? "R² = 0.185" : "R² = 0.176"}
      </text>
    </g>
  );
}

function Triangle({ x0, xV, x1, y0, yT, mode }: any) {
  const slope = (y0 - yT) / (x1 - x0);
  const yAt = (x: number) => y0 - (x - x0) * slope;
  const yH = 506.7;
  const xH = x0 + (y0 - yH) / slope;
  const yellow = "#fbb116", blue = "#0f80cf";
  return (
    <g stroke="#1a1311" strokeWidth={1.5} strokeLinejoin="miter">
      <polygon points={`${x0},${y0} ${x1},${yT} ${x1},${y0}`} fill="#fff" />
      {mode === "tc" ? (
        <>
          <polygon points={`${x0},${y0} ${xV},${yAt(xV)} ${xV},${y0}`} fill={yellow} />
          <polygon points={`${xH},${yH} ${x1},${yT} ${x1},${yH}`} fill={yellow} />
        </>
      ) : (
        <rect x={xV} y={yH} width={x1 - xV} height={y0 - yH} fill={blue} />
      )}
      <line x1={xV} x2={xV} y1={yAt(xV)} y2={y0} />
      <line x1={xV} x2={x1} y1={yH} y2={yH} />
    </g>
  );
}

function TrackLabels({ xs, y, size = 15.5 }: any) {
  return <g>{["S", "C", "R"].map((t, i) => <Txt key={t} x={xs[i]} y={y} size={size}>{t}</Txt>)}</g>;
}
function SideLabels({ x, ys, size = 15 }: any) {
  return <g>{["S", "C", "R"].map((t, i) => <Txt key={t} x={x} y={ys[i]} size={size} rotate={-90}>{t}</Txt>)}</g>;
}
function PrePost({ x0, xm0, xm1, x1, y, textY, preX, postX, size = 15 }: any) {
  return (
    <g>
      <Brace x0={x0} x1={xm0} y={y} />
      <Brace x0={xm1} x1={x1} y={y} />
      <Txt x={preX} y={textY} size={size}>pre-C</Txt>
      <Txt x={postX} y={textY} size={size}>post-C</Txt>
    </g>
  );
}

export default function App() {
  return (
    <svg width={759} height={1280} viewBox="0 0 759 1280" style={{ position: "absolute", left: 0, top: 0, background: "#fff" }}>
      <defs>
        <filter id="soft" x="-2%" y="-2%" width="104%" height="104%"><feGaussianBlur stdDeviation="0.45" /></filter>
      </defs>

      {/* Panel A */}
      <Txt x={8} y={13} size={22} bold anchor="start">A</Txt>
      <Txt x={147} y={14.5} size={16.5} bold>CA1</Txt>
      <Txt x={385.3} y={14.5} size={16.5} bold>SUB</Txt>
      <PrePost x0={56} xm0={169} xm1={170} x1={226} y={58.5} textY={43.5} preX={114} postX={199.3} />
      <PrePost x0={297.3} xm0={410} xm1={411} x1={467.3} y={58.5} textY={43.5} preX={355.3} postX={440.7} />
      <Heat id="hA1" left={54.5} right={226} top={65.5} bottom={358} rowsMax={109} peak={ca1Peak} sigL={ca1SigL} sigR={ca1SigR} base={ca1Base} lobes={ca1Lobes} cLine={66.2} />
      <Heat id="hA2" left={296} right={467.5} top={65.5} bottom={358} rowsMax={101.5} peak={subPeak} sigL={subSigL} sigR={subSigR} base={subBase} lobes={subLobes} cLine={66.7} />
      <Txt x={10} y={215} size={16.5} rotate={-90}>Cell</Txt>
      <HTrack x0={56} x1={225} y={369.7} />
      <HTrack x0={297.7} x1={466.3} y={369.7} />
      <TrackLabels xs={[56, 168.7, 225]} y={391} />
      <TrackLabels xs={[297.7, 410.3, 466.3]} y={391} />

      {/* Panel B */}
      <Txt x={506.7} y={13} size={22} bold anchor="start">B</Txt>
      <PrePost x0={585.7} xm0={669} xm1={669.5} x1={711.7} y={52} textY={36} preX={627.7} postX={692} />
      <Matrix x0={585.7} x1={711.7} y0={62.3} y1={188.3} data={ca1Matrix} />
      <Matrix x0={585.2} x1={711.7} y0={238.7} y1={365.7} data={subMatrix} />
      <Txt x={521} y={123} size={16.5} bold>CA1</Txt>
      <Txt x={521} y={300} size={16.5} bold>SUB</Txt>
      <VTrack x={575} yS={188.3} yR={63.3} />
      <VTrack x={575} yS={365} yR={239.3} />
      <HTrack x0={586.3} x1={711.7} y={195.7} R={5.2} r={2.3} />
      <HTrack x0={585.5} x1={711.2} y={373} R={5.2} r={2.3} />
      <TrackLabels xs={[586.5, 670, 711.7]} y={209.5} size={15} />
      <TrackLabels xs={[585.5, 669.5, 711.2]} y={386.5} size={15} />
      <SideLabels x={561.7} ys={[188.3, 105.3, 63.3]} />
      <SideLabels x={561.7} ys={[365, 281.7, 239.3]} />
      <Colorbar id="cb1" x0={728.7} x1={740} y0={90.7} y1={164} />
      <Txt x={744} y={92} size={15} anchor="start">1</Txt>
      <Txt x={742} y={161.5} size={15} anchor="start">-1</Txt>

      {/* Panel C */}
      <Txt x={13} y={418} size={22} bold anchor="start">C</Txt>
      <PanelC />
      <VTrack x={54} yS={565.3} yR={440.7} />
      <HTrack x0={64} x1={190} y={574.3} R={5.2} r={2.3} />
      <TrackLabels xs={[64, 148, 190]} y={588.3} size={15} />
      <SideLabels x={40} ys={[565.3, 482, 440.7]} />

      {/* Panel D */}
      <Txt x={300} y={417} size={22} bold anchor="start">D</Txt>
      <Triangle x0={255} xV={291.3} x1={309.3} y0={542} yT={487.7} mode="tc" />
      <BoxPanel axisX={367.7} axisEnd={461.7} centers={[396.7, 440.7]} boxes={dBoxes} pts={[dCa1Pts, dSubPts]} bracket={439} dropY={444.3} starY={433.5} labelX={322.7} />

      {/* Panel E */}
      <Txt x={550} y={417} size={22} bold anchor="start">E</Txt>
      <Triangle x0={505.7} xV={541.7} x1={559.3} y0={542} yT={488.3} mode="ti" />
      <BoxPanel axisX={617.7} axisEnd={715} centers={[647, 689.7]} boxes={eBoxes} pts={[eCa1Pts, eSubPts]} bracket={436.7} dropY={443} starY={431.5} labelX={572.7} />

      {/* Panel F */}
      <Txt x={10} y={638} size={22} bold anchor="start">F</Txt>
      <Txt x={140} y={639} size={16.5} bold>Shifted CA1</Txt>
      <Txt x={380} y={639} size={16.5} bold>Shifted SUB</Txt>
      <PrePost x0={56} xm0={168} xm1={169} x1={226} y={683.5} textY={668} preX={114} postX={199} />
      <PrePost x0={295.5} xm0={408} xm1={409} x1={465.3} y={683.5} textY={668} preX={353.3} postX={438.7} />
      <Heat id="hF1" left={54.5} right={226} top={690} bottom={982.7} rowsMax={109} peak={sca1Peak} sigL={sca1SigL} sigR={sca1SigR} base={sca1Base} lobes={sca1Lobes} cLine={66} />
      <Heat id="hF2" left={294.7} right={465.3} top={690} bottom={982.7} rowsMax={101.5} peak={ssubPeak} sigL={ssubSigL} sigR={ssubSigR} base={ssubBase} lobes={ssubLobes} cLine={66.3} />
      <Txt x={12} y={840} size={16.5} rotate={-90}>Cell</Txt>
      <HTrack x0={56} x1={224.7} y={994.3} />
      <HTrack x0={295.7} x1={464.3} y={994.3} />
      <TrackLabels xs={[56, 168.3, 224.7]} y={1015} />
      <TrackLabels xs={[295.7, 408.3, 464.3]} y={1015} />

      {/* Panel G */}
      <Txt x={506} y={638} size={22} bold anchor="start">G</Txt>
      <PrePost x0={589} xm0={672.5} xm1={673.5} x1={715} y={677} textY={661} preX={631} postX={696} />
      <Matrix x0={589} x1={715} y0={687.3} y1={813.3} data={sca1Matrix} />
      <Matrix x0={589} x1={715.3} y0={864.3} y1={990.7} data={ssubMatrix} border={2.6} />
      <Txt x={521.7} y={738.7} size={16.5} bold>Shifted</Txt>
      <Txt x={521.7} y={759} size={16.5} bold>CA1</Txt>
      <Txt x={521.7} y={915} size={16.5} bold>Shifted</Txt>
      <Txt x={521.7} y={936} size={16.5} bold>SUB</Txt>
      <VTrack x={578.7} yS={813.7} yR={689} />
      <VTrack x={578.7} yS={990} yR={865} />
      <HTrack x0={590} x1={715} y={821.7} R={5.2} r={2.3} />
      <HTrack x0={589} x1={715} y={998.7} R={5.2} r={2.3} />
      <TrackLabels xs={[590, 673.3, 715]} y={835} size={15} />
      <TrackLabels xs={[589, 672.5, 715]} y={1011.7} size={15} />
      <SideLabels x={565} ys={[813.7, 730.7, 689]} />
      <SideLabels x={565} ys={[990, 907, 865]} />
      <Colorbar id="cb2" x0={732.3} x1={742.3} y0={715.7} y1={789} />
      <Txt x={746} y={718} size={15} anchor="start">1</Txt>
      <Txt x={744} y={786.7} size={15} anchor="start">-1</Txt>

      {/* Panel H */}
      <Txt x={42.7} y={1057} size={22} bold anchor="start">H</Txt>
      <Txt x={249} y={1063} size={16.5} bold>CA1</Txt>
      <Txt x={590} y={1063} size={16.5} bold>SUB</Txt>
      <Bar id="b1" x0={164.3} x1={335} y0={1078.3} y1={1093.3} vals={speedCa1} />
      <Bar id="b2" x0={164.3} x1={335} y0={1102.3} y1={1117.3} vals={ermCa1} />
      <Bar id="b3" x0={504.7} x1={675.7} y0={1078.3} y1={1093.3} vals={speedSub} />
      <Bar id="b4" x0={504.7} x1={675.7} y0={1102.3} y1={1117.3} vals={ermSub} />
      <Txt x={159} y={1085} size={13.5} anchor="end">Speed map</Txt>
      <Txt x={124.3} y={1109} size={13.5}>ERM</Txt>
      <Txt x={499} y={1085} size={13.5} anchor="end">Speed map</Txt>
      <Txt x={464.3} y={1109} size={13.5}>ERM</Txt>
      <Txt x={337.7} y={1089} size={13} anchor="start">68.9</Txt>
      <Txt x={337.7} y={1113} size={13} anchor="start">28.5</Txt>
      <Txt x={678.7} y={1089} size={13} anchor="start">69.5</Txt>
      <Txt x={678.7} y={1113} size={13} anchor="start">9.4</Txt>
      <Scatter axisX={166} axisEnd={337} xDomain={[30, 90]} xRange={[178.7, 336.7]} xTicks={[30, 50, 70, 90]} yDomain={[10, 30]} yRange={[1228.7, 1150.3]} yTicks={[10, 20, 30]} topY={1131} data={ca1Scatter} fit={ca1Fit} r2x={330} />
      <Scatter axisX={507} axisEnd={677.3} xDomain={[40, 80]} xRange={[522, 647]} xTicks={[40, 60, 80]} yDomain={[0, 16]} yRange={[1239, 1131]} yTicks={[0, 4, 8, 12, 16]} topY={1131} data={subScatter} fit={subFit} r2x={677} />
      <Txt x={110.7} y={1183} size={15.4} rotate={-90}>in-field</Txt>
      <Txt x={129.3} y={1183} size={15.4} rotate={-90}>firing rate (Hz)</Txt>
      <Txt x={450.7} y={1183} size={15.4} rotate={-90}>in-field</Txt>
      <Txt x={469.3} y={1183} size={15.4} rotate={-90}>firing rate (Hz)</Txt>
      <Txt x={251.7} y={1270} size={15.4}>in-field speed (cm/s)</Txt>
      <Txt x={592.3} y={1270} size={15.4}>in-field speed (cm/s)</Txt>
    </svg>
  );
}
